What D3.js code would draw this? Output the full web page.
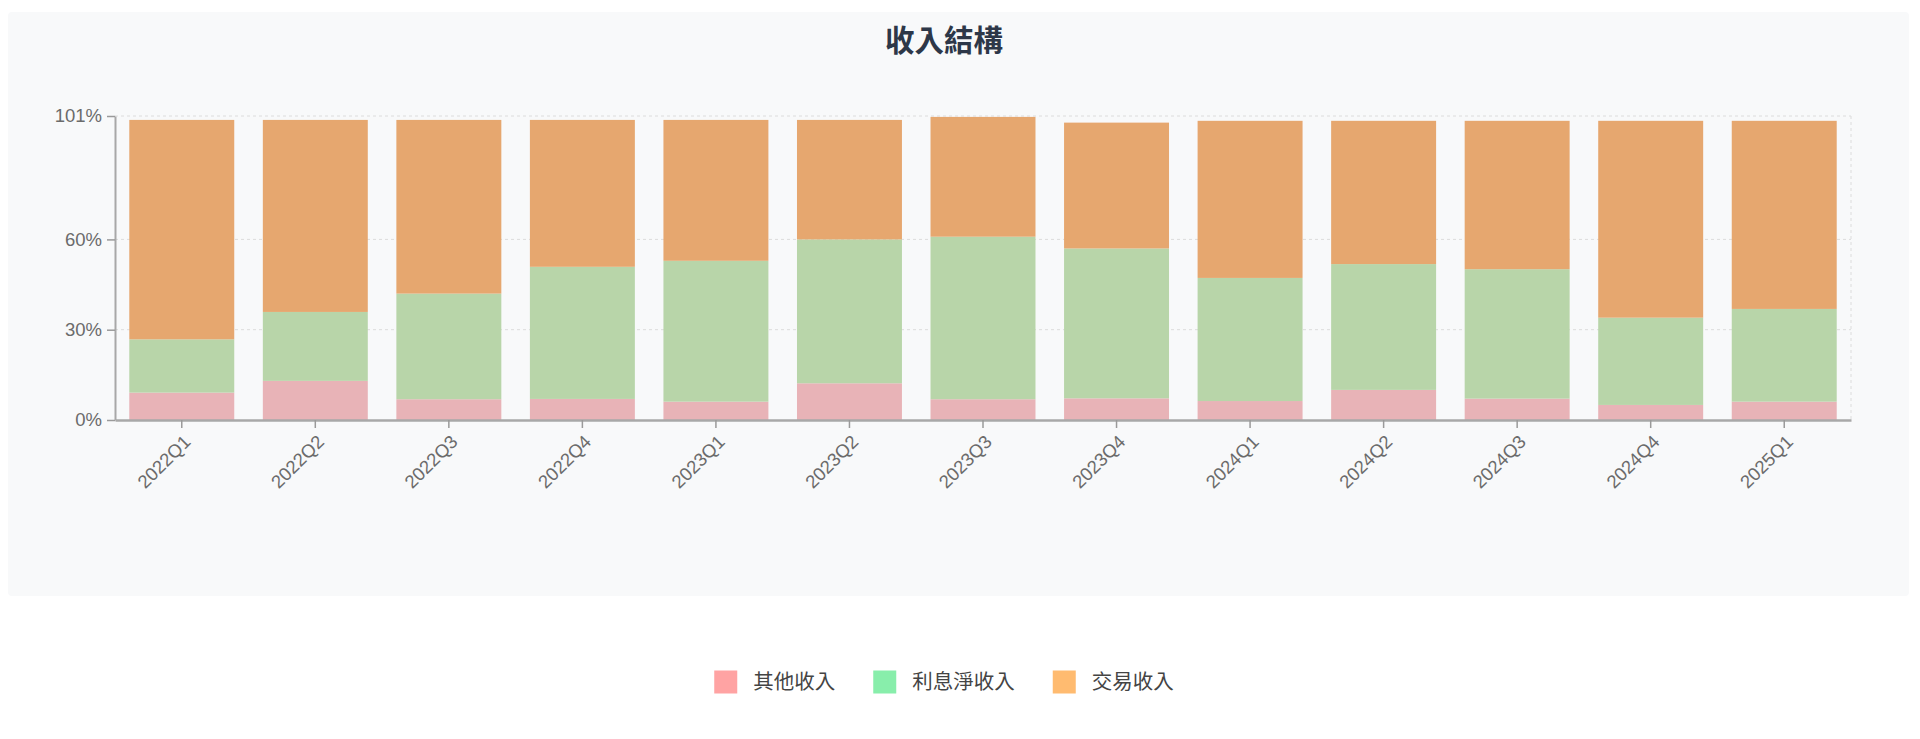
<!DOCTYPE html>
<html>
<head>
<meta charset="utf-8">
<script src="https://cdn.jsdelivr.net/npm/d3@7/dist/d3.min.js"></script>
<style>
  html, body { margin: 0; padding: 0; background: #ffffff; }
  svg { display: block; }
</style>
</head>
<body>
<svg id="chart" width="1920" height="739"></svg>
<script>
// Données
const quarters = ["2022Q1","2022Q2","2022Q3","2022Q4","2023Q1","2023Q2","2023Q3",
                  "2023Q4","2024Q1","2024Q2","2024Q3","2024Q4","2025Q1"];
const otherIncome    = [9.1, 13.0, 6.9, 7.0, 6.1, 12.2, 6.9, 7.2, 6.3, 10.0, 7.1, 5.0, 6.1];
const interestIncome = [17.7, 22.9, 35.1, 43.9, 46.8, 47.8, 54.0, 49.8, 40.9, 41.8, 43.0, 29.0, 30.8];
const tradingIncome  = [72.9, 63.8, 57.7, 48.8, 46.8, 39.7, 39.8, 41.8, 52.2, 47.6, 49.3, 65.4, 62.5];
const seriesKeys   = ["other", "interest", "trading"];
const seriesLabels = ["其他收入", "利息淨收入", "交易收入"];
const yTicks = [0, 30, 60, 101];

const barColors    = { other: "#e8b3b7", interest: "#b8d5a9", trading: "#e6a76f" };
const legendColors = { other: "#ffa3a3", interest: "#88eeab", trading: "#ffbb70" };

const rows = quarters.map((q, i) => ({
  q, other: otherIncome[i], interest: interestIncome[i], trading: tradingIncome[i]
}));

const svg = d3.select("#chart");
const latin = "'Liberation Sans', Arial, Helvetica, sans-serif";
const cjk = "'Noto Sans CJK TC', 'Noto Sans CJK SC', sans-serif";

// Fond du panneau
svg.append("rect")
  .attr("x", 8).attr("y", 12).attr("width", 1901).attr("height", 584)
  .attr("rx", 4).attr("fill", "#f8f9fa");

// Titre
svg.append("text")
  .attr("x", 944).attr("y", 51)
  .attr("text-anchor", "middle")
  .attr("font-family", cjk).attr("font-weight", 700).attr("font-size", 29.5)
  .attr("fill", "#2d3748")
  .text("收入結構");

// Échelles
const x = d3.scaleBand().domain(quarters).range([115, 1851])
  .paddingInner(0.214).paddingOuter(0.107);
const y = d3.scaleLinear().domain([0, 101]).range([420, 116]);

// Grille
const grid = svg.append("g").attr("stroke", "#dcdcdc").attr("stroke-dasharray", "3 3");
yTicks.filter(t => t > 0).forEach(t => {
  grid.append("line").attr("x1", 115).attr("x2", 1851).attr("y1", y(t)).attr("y2", y(t));
});
grid.append("line").attr("x1", 1851).attr("x2", 1851).attr("y1", y(101)).attr("y2", y(0));

// Barres empilées
const stacked = d3.stack().keys(seriesKeys)(rows);
svg.append("g").selectAll("g").data(stacked).join("g")
  .attr("fill", d => barColors[d.key])
  .selectAll("rect").data(d => d).join("rect")
  .attr("x", d => x(d.data.q))
  .attr("width", x.bandwidth())
  .attr("y", d => y(d[1]))
  .attr("height", d => y(d[0]) - y(d[1]));

// Axe X
const xAxis = svg.append("g").attr("transform", "translate(0,420)")
  .call(d3.axisBottom(x).tickSize(8).tickSizeOuter(0));
xAxis.select(".domain").attr("stroke", "#a8a8a8").attr("stroke-width", 2.5);
xAxis.selectAll(".tick line").attr("stroke", "#9a9a9a").attr("stroke-width", 1.5);
xAxis.selectAll(".tick text")
  .attr("font-family", latin).attr("font-size", 18.5).attr("fill", "#6b6b6b")
  .attr("text-anchor", "end")
  .attr("x", 0).attr("y", 0).attr("dy", 0)
  .attr("transform", "translate(10,23) rotate(-45)");

// Axe Y
const yAxis = svg.append("g").attr("transform", "translate(115,0)")
  .call(d3.axisLeft(y).tickValues(yTicks).tickFormat(d => d + "%").tickSize(8).tickSizeOuter(0));
yAxis.select(".domain").attr("stroke", "#a8a8a8").attr("stroke-width", 2);
yAxis.selectAll(".tick line").attr("stroke", "#9a9a9a").attr("stroke-width", 1.5);
yAxis.selectAll(".tick text")
  .attr("font-family", latin).attr("font-size", 18.5).attr("fill", "#6b6b6b")
  .attr("x", -13);

// Légende
const legend = svg.append("g");
const items = legend.selectAll("g").data(seriesKeys).join("g");
items.append("rect").attr("width", 23).attr("height", 23).attr("y", -11.5)
  .attr("fill", d => legendColors[d]);
items.append("text").attr("x", 39).attr("dy", "0.36em")
  .attr("font-family", cjk).attr("font-size", 20.5).attr("fill", "#444")
  .text((d, i) => seriesLabels[i]);
const widths = [];
items.each(function () { widths.push(this.getBBox().width); });
const gap = 38;
const total = d3.sum(widths) + gap * (widths.length - 1);
let cursor = 944 - total / 2;
items.attr("transform", (d, i) => {
  const tx = cursor; cursor += widths[i] + gap;
  return `translate(${tx},682)`;
});
</script>
</body>
</html>
